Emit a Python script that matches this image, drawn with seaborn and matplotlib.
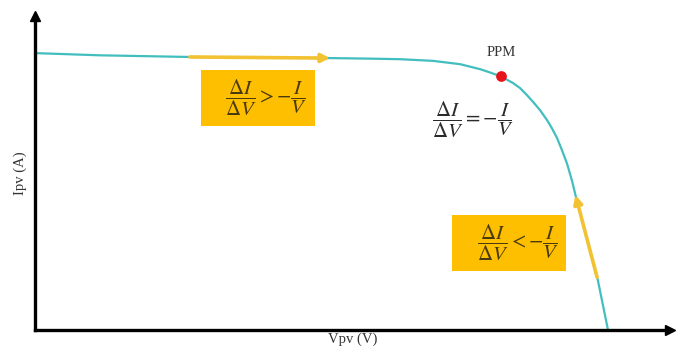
import numpy as np
import matplotlib
matplotlib.use("Agg")
import matplotlib.pyplot as plt
import seaborn as sns

# I-V curve (arbitrary units: volts / amps)
V = [0.0, 2.50, 5.95, 8.64, 11.33, 12.86, 14.01, 15.28, 16.32, 17.09,
     17.47, 17.89, 18.12, 18.35, 18.62, 18.89, 19.12, 19.39, 19.66, 19.85,
     20.04, 20.23, 20.43, 20.62, 20.77, 20.89, 21.23, 21.61, 22.0]
I = [5.00, 4.96, 4.93, 4.92, 4.91, 4.90, 4.89, 4.86, 4.80, 4.71,
     4.65, 4.58, 4.52, 4.46, 4.37, 4.24, 4.12, 3.97, 3.79, 3.64,
     3.47, 3.25, 3.00, 2.69, 2.40, 2.18, 1.57, 0.90, 0.0]
V_mpp = 17.89
I_mpp = 4.58
seg_left = (5.95, 11.33)     # V range of the left arrow (pointing right)
seg_right = (21.58, 20.75)   # V range of the right arrow (pointing up)

x_label = "Vpv (V)"
y_label = "Ipv (A)"
ppm_label = "PPM"
eq_left = r"$\quad\,\dfrac{\Delta I}{\Delta V} > -\dfrac{I}{V}\quad\,$"
eq_mid = r"$\dfrac{\Delta I}{\Delta V} = -\dfrac{I}{V}$"
eq_right = r"$\quad\,\dfrac{\Delta I}{\Delta V} < -\dfrac{I}{V}\quad\,$"

sns.set_style("white")
plt.rcParams["font.family"] = ["Liberation Serif", "DejaVu Serif"]
plt.rcParams["mathtext.fontset"] = "stix"

W, H = 678, 354
fig = plt.figure(figsize=(W / 100, H / 100), dpi=100)
x0, y0, x1, y1 = 35, 330, 670, 16
ax = fig.add_axes([x0 / W, (H - y0) / H, (x1 - x0) / W, (y0 - y1) / H])
ax.set_xlim(0, 24.38)
ax.set_ylim(0, 5.67)

teal = "#43BEBF"
gold = "#FDBF00"
arrow_c = "#F3C232"

sns.lineplot(x=V, y=I, ax=ax, color=teal, linewidth=1.6, sort=False,
             estimator=None, legend=False)

# highlighted arrows along the curve
for (va, vb) in (seg_left, seg_right):
    ia = float(np.interp(va, V, I))
    ib = float(np.interp(vb, V, I))
    ax.annotate("", xy=(vb, ib), xytext=(va, ia),
                arrowprops=dict(arrowstyle="-|>,head_length=0.5,head_width=0.25",
                                color=arrow_c, lw=2.6, shrinkA=0, shrinkB=0))

ax.scatter([V_mpp], [I_mpp], s=60, color="#E8121B", zorder=5, linewidths=0)
ax.annotate(ppm_label, xy=(V_mpp, I_mpp), xytext=(0, 17),
            textcoords="offset points", ha="center", va="center",
            fontsize=10.5, color="#333333")

box = dict(boxstyle="square,pad=0.38", fc=gold, ec="none")
ax.text(8.56, 4.19, eq_left, ha="center", va="center", fontsize=15,
        color="#4A3A10", bbox=box)
ax.text(18.2, 1.57, eq_right, ha="center", va="center", fontsize=15,
        color="#4A3A10", bbox=box)
ax.text(16.82, 3.79, eq_mid, ha="center", va="center", fontsize=15,
        color="#2A2A2A")

# axes with arrow heads
for s in ("top", "right"):
    ax.spines[s].set_visible(False)
for s in ("left", "bottom"):
    ax.spines[s].set_linewidth(2.4)
    ax.spines[s].set_color("black")
ax.plot(1, 0, ">", color="black", markersize=7, transform=ax.transAxes,
        clip_on=False)
ax.plot(0, 1, "^", color="black", markersize=7, transform=ax.transAxes,
        clip_on=False)
ax.set_xticks([])
ax.set_yticks([])
ax.set_xlabel(x_label, fontsize=10.5, color="#333333", labelpad=2)
ax.set_ylabel(y_label, fontsize=10.5, color="#333333", labelpad=6)

fig.savefig("out.png", dpi=100)
